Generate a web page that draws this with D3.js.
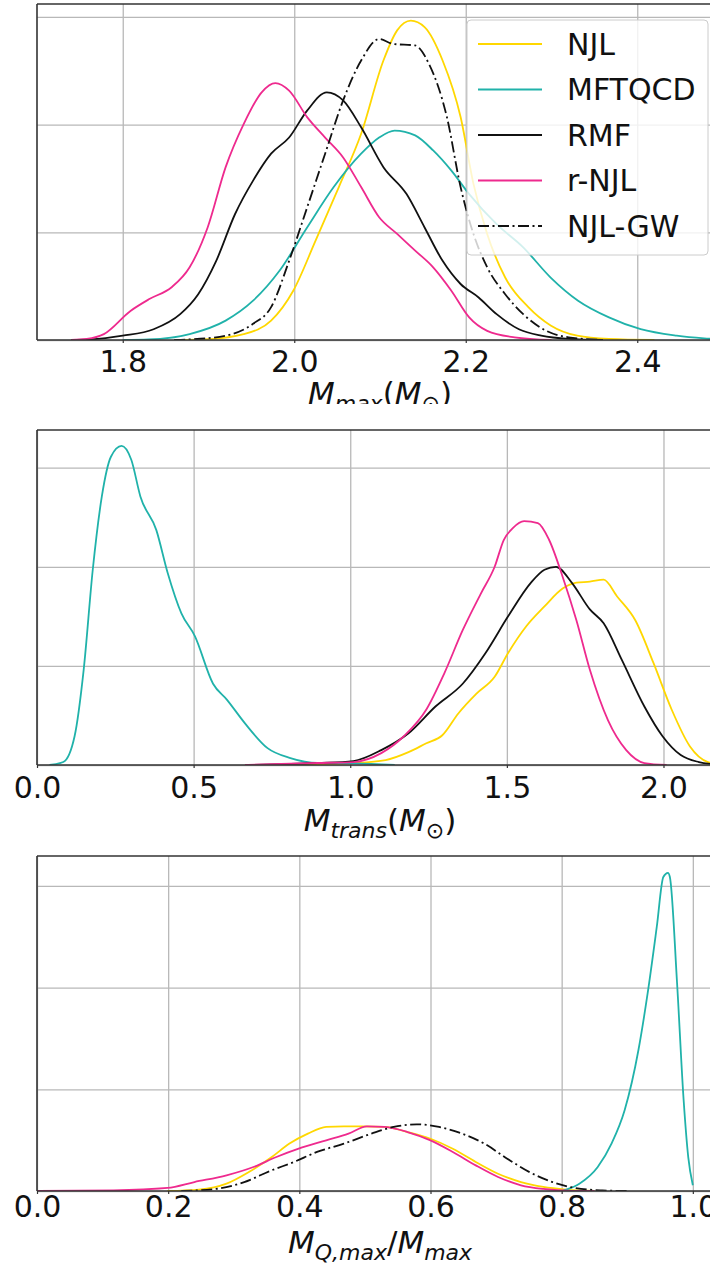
<!DOCTYPE html>
<meta charset="utf-8">
<script src="https://d3js.org/d3.v7.min.js"></script>
<style>
  body { margin: 0; background: #fff; }
  text { font-family: "DejaVu Sans", sans-serif; }
</style>
<div id="chart"></div>
<script>

// series names, in plotting / legend order
const models = ["NJL", "MFTQCD", "RMF", "r-NJL", "NJL-GW"];

// ---- panel 1 : M_max (density)
const mmaxNJL = [[1.86,0],[1.894,0.01],[1.941,0.11],[1.973,0.36],[1.999,0.92],[2.025,1.85],[2.052,2.84],[2.078,3.83],[2.104,5.19],[2.12,5.75],[2.136,5.93],[2.152,5.81],[2.173,5.19],[2.194,4.14],[2.209,2.9],[2.225,1.97],[2.246,1.16],[2.273,0.61],[2.299,0.27],[2.33,0.08],[2.367,0.02],[2.42,0]];
const mmaxMFTQCD = [[1.8,0],[1.83,0.01],[1.878,0.11],[1.92,0.36],[1.952,0.73],[1.983,1.29],[2.015,2.09],[2.046,2.84],[2.078,3.46],[2.099,3.76],[2.117,3.89],[2.141,3.8],[2.162,3.52],[2.183,3.15],[2.204,2.71],[2.236,2.15],[2.267,1.72],[2.299,1.16],[2.331,0.73],[2.367,0.42],[2.404,0.2],[2.446,0.08],[2.478,0.03],[2.52,0]];
const mmaxRMF = [[1.74,0],[1.762,0.01],[1.8,0.08],[1.836,0.2],[1.867,0.48],[1.888,0.85],[1.909,1.47],[1.931,2.34],[1.952,2.96],[1.973,3.46],[1.994,3.76],[2.015,4.26],[2.038,4.6],[2.057,4.45],[2.078,3.95],[2.104,3.21],[2.131,2.71],[2.152,2.09],[2.173,1.47],[2.194,1.04],[2.215,0.79],[2.236,0.48],[2.262,0.2],[2.288,0.08],[2.32,0.02],[2.36,0]];
const mmaxRNJL = [[1.74,0],[1.758,0.02],[1.778,0.11],[1.809,0.54],[1.831,0.76],[1.857,0.98],[1.878,1.35],[1.899,2.09],[1.92,3.21],[1.941,4.01],[1.962,4.6],[1.978,4.77],[1.994,4.63],[2.015,4.14],[2.036,3.76],[2.057,3.39],[2.078,2.84],[2.099,2.28],[2.12,1.97],[2.141,1.66],[2.162,1.35],[2.183,0.92],[2.204,0.42],[2.225,0.17],[2.257,0.05],[2.3,0]];
const mmaxNJLGW = [[1.86,0],[1.878,0.01],[1.92,0.08],[1.952,0.3],[1.973,0.61],[1.994,1.47],[2.015,2.46],[2.036,3.46],[2.057,4.45],[2.078,5.19],[2.099,5.59],[2.115,5.5],[2.141,5.47],[2.157,5.13],[2.178,4.14],[2.194,2.84],[2.209,1.97],[2.225,1.35],[2.246,0.85],[2.267,0.48],[2.294,0.17],[2.32,0.05],[2.36,0]];

// ---- panel 2 : M_trans
const mtransNJL = [[0.75,0],[0.9,0.01],[1.01,0.02],[1.113,0.05],[1.186,0.13],[1.243,0.22],[1.294,0.3],[1.345,0.52],[1.403,0.72],[1.461,0.89],[1.504,1.13],[1.562,1.4],[1.62,1.6],[1.678,1.78],[1.722,1.84],[1.765,1.85],[1.809,1.87],[1.852,1.7],[1.91,1.46],[1.968,1.03],[2.026,0.56],[2.084,0.19],[2.142,0.03],[2.2,0]];
const mtransMFTQCD = [[0.04,0],[0.084,0.03],[0.12,0.29],[0.149,0.96],[0.178,1.97],[0.207,2.71],[0.236,3.11],[0.27,3.22],[0.301,3.08],[0.33,2.71],[0.381,2.37],[0.417,1.94],[0.461,1.53],[0.504,1.3],[0.562,0.82],[0.606,0.66],[0.664,0.42],[0.736,0.17],[0.809,0.07],[0.896,0.02],[1.012,0.017],[1.142,0]];
const mtransRMF = [[0.664,0],[0.896,0.02],[1.01,0.04],[1.099,0.15],[1.186,0.32],[1.272,0.59],[1.359,0.82],[1.432,1.13],[1.504,1.5],[1.577,1.84],[1.62,1.97],[1.657,2.0],[1.707,1.84],[1.765,1.57],[1.809,1.43],[1.867,1.06],[1.939,0.59],[1.997,0.29],[2.055,0.1],[2.113,0.03],[2.15,0.01],[2.19,0]];
const mtransRNJL = [[0.664,0],[0.896,0.02],[1.01,0.03],[1.099,0.12],[1.171,0.29],[1.243,0.56],[1.301,0.93],[1.359,1.36],[1.417,1.73],[1.461,2.0],[1.49,2.27],[1.519,2.39],[1.555,2.46],[1.599,2.44],[1.635,2.27],[1.678,1.9],[1.722,1.46],[1.765,0.96],[1.823,0.45],[1.881,0.15],[1.939,0.02],[2.01,0]];

// ---- panel 3 : M_Q,max / M_max
const mqNJL = [[0.199,0],[0.247,0.07],[0.289,0.36],[0.323,0.93],[0.358,1.67],[0.385,2.33],[0.413,2.82],[0.441,3.15],[0.468,3.18],[0.496,3.18],[0.53,3.15],[0.565,2.9],[0.6,2.57],[0.634,2.08],[0.669,1.43],[0.703,0.85],[0.738,0.44],[0.772,0.2],[0.807,0.07],[0.85,0]];
const mqMFTQCD = [[0.8,0],[0.807,0.07],[0.827,0.36],[0.855,1.18],[0.876,2.33],[0.896,3.97],[0.917,6.92],[0.931,9.7],[0.945,12.98],[0.955,15.44],[0.962,15.64],[0.965,15.44],[0.976,10.2],[0.986,4.46],[0.993,1.67],[1.0,0.28]];
const mqRNJL = [[0.0,0],[0.116,0.03],[0.199,0.15],[0.24,0.44],[0.289,0.77],[0.33,1.18],[0.365,1.67],[0.399,2.08],[0.441,2.49],[0.475,2.82],[0.503,3.18],[0.53,3.15],[0.565,2.9],[0.6,2.49],[0.634,1.92],[0.669,1.26],[0.703,0.69],[0.738,0.28],[0.772,0.1],[0.807,0.02],[0.85,0]];
const mqNJLGW = [[0.22,0],[0.275,0.11],[0.316,0.44],[0.358,1.02],[0.392,1.43],[0.427,1.92],[0.468,2.33],[0.51,2.82],[0.544,3.15],[0.579,3.28],[0.613,3.15],[0.648,2.82],[0.682,2.33],[0.717,1.59],[0.751,0.93],[0.786,0.44],[0.82,0.15],[0.862,0.03],[0.9,0]];

// tick values
const mmaxTicks = [1.8, 2.0, 2.2, 2.4];
const mtransTicks = [0.0, 0.5, 1.0, 1.5, 2.0];
const mqTicks = [0.0, 0.2, 0.4, 0.6, 0.8, 1.0];

// styles per model
const colors = { "NJL": "#ffd700", "MFTQCD": "#20b2aa", "RMF": "#111111", "r-NJL": "#ee2a8e", "NJL-GW": "#111111" };
const dashes = { "NJL-GW": "11,3.5,2,3.5" };

const W = 710, H = 1267;
const left = 37, right = 723;

const panels = [
  { top: 4, bottom: 340, xdom: [1.7, 2.5], ymax: 6.24, xticks: mmaxTicks, yticks: [0, 2, 4, 6],
    data: { "NJL": mmaxNJL, "MFTQCD": mmaxMFTQCD, "RMF": mmaxRMF, "r-NJL": mmaxRNJL, "NJL-GW": mmaxNJLGW },
    label: [["M", 1, 0], ["max", 1, 1], ["(", 0, 0], ["M", 1, 0], ["\u2299", 0, 1], [")", 0, 0]],
    tickPad: 8, labelDy: 64, legend: true, clipLabel: 404 },
  { top: 430, bottom: 765, xdom: [0, 2.19], ymax: 3.38, xticks: mtransTicks, yticks: [0, 1, 2, 3],
    data: { "NJL": mtransNJL, "MFTQCD": mtransMFTQCD, "RMF": mtransRMF, "r-NJL": mtransRNJL },
    label: [["M", 1, 0], ["trans", 1, 1], ["(", 0, 0], ["M", 1, 0], ["\u2299", 0, 1], [")", 0, 0]],
    tickPad: 9, labelDy: 66 },
  { top: 856, bottom: 1191, xdom: [0, 1.046], ymax: 16.47, xticks: mqTicks, yticks: [0, 5, 10, 15],
    data: { "NJL": mqNJL, "MFTQCD": mqMFTQCD, "r-NJL": mqRNJL, "NJL-GW": mqNJLGW },
    label: [["M", 1, 0], ["Q,max", 1, 1], ["/", 0, 0], ["M", 1, 0], ["max", 1, 1]],
    tickPad: 2, labelDy: 62 }
];

const svg = d3.select("#chart").append("svg")
  .attr("width", W)
  .attr("height", H);

panels.forEach(function (p, i) {
  const x = d3.scaleLinear().domain(p.xdom).range([left, right]);
  const y = d3.scaleLinear().domain([0, p.ymax]).range([p.bottom, p.top]);
  const g = svg.append("g");

  // clip for the curves
  svg.append("clipPath").attr("id", "clip" + i)
    .append("rect").attr("x", left).attr("y", p.top)
    .attr("width", right - left).attr("height", p.bottom - p.top);

  // grid
  g.append("g")
    .attr("transform", `translate(0,${p.bottom})`)
    .call(d3.axisBottom(x).tickValues(p.xticks).tickSize(-(p.bottom - p.top)).tickFormat(""))
    .call(a => a.select(".domain").remove())
    .selectAll("line").attr("stroke", "#b8b8b8").attr("stroke-width", 1.3);
  g.append("g")
    .attr("transform", `translate(${left},0)`)
    .call(d3.axisLeft(y).tickValues(p.yticks).tickSize(-(right - left)).tickFormat(""))
    .call(a => a.select(".domain").remove())
    .selectAll("line").attr("stroke", "#b8b8b8").attr("stroke-width", 1.3);

  // density curves
  const line = d3.line()
    .x(d => x(d[0]))
    .y(d => y(d[1]))
    .curve(d3.curveMonotoneX);

  const curves = g.append("g").attr("clip-path", `url(#clip${i})`);
  models.forEach(function (m) {
    if (!p.data[m]) return;
    curves.append("path")
      .datum(p.data[m])
      .attr("d", line)
      .attr("fill", "none")
      .attr("stroke", colors[m])
      .attr("stroke-width", 1.8)
      .attr("stroke-dasharray", dashes[m] || null);
  });

  // spines
  const spine = g.append("g").attr("stroke", "#333").attr("stroke-width", 1.6);
  spine.append("line").attr("x1", left).attr("x2", left).attr("y1", p.top).attr("y2", p.bottom);
  spine.append("line").attr("x1", left).attr("x2", right).attr("y1", p.top).attr("y2", p.top);
  spine.append("line").attr("x1", left).attr("x2", right).attr("y1", p.bottom).attr("y2", p.bottom);
  spine.append("line").attr("x1", right).attr("x2", right).attr("y1", p.top).attr("y2", p.bottom);

  // x tick labels
  const ax = g.append("g")
    .attr("transform", `translate(0,${p.bottom})`)
    .call(d3.axisBottom(x).tickValues(p.xticks).tickSize(3).tickPadding(p.tickPad).tickFormat(d3.format(".1f")));
  ax.select(".domain").remove();
  ax.selectAll("line").attr("stroke", "#333").attr("stroke-width", 1.2);
  ax.selectAll("text")
    .attr("fill", "#111")
    .style("font-size", "30px")
    .style("font-family", "DejaVu Sans");

  // x axis label (mathtext-like)
  const lab = svg.append("text")
    .attr("x", (left + right) / 2)
    .attr("y", p.bottom + p.labelDy)
    .attr("text-anchor", "middle")
    .attr("fill", "#111")
    .style("font-size", "31px");
  let sub = 0;
  p.label.forEach(function (s) {
    const t = lab.append("tspan").text(s[0])
      .style("font-style", s[1] ? "italic" : "normal");
    if (s[2]) t.style("font-size", "22px");
    const dy = (s[2] ? 7 : 0) - sub;
    if (dy) t.attr("dy", dy);
    sub = s[2] ? 7 : 0;
  });
  if (p.clipLabel) {
    svg.append("clipPath").attr("id", "labclip" + i)
      .append("rect").attr("x", 0).attr("y", 0).attr("width", W).attr("height", p.clipLabel);
    lab.attr("clip-path", `url(#labclip${i})`);
  }

  // legend
  if (p.legend) {
    const lg = svg.append("g");
    lg.append("rect")
      .attr("x", 467).attr("y", 20).attr("width", 241).attr("height", 235)
      .attr("rx", 4)
      .attr("fill", "#fff").attr("fill-opacity", 0.8)
      .attr("stroke", "#cccccc").attr("stroke-width", 1);
    models.forEach(function (m, k) {
      const yy = 44 + k * 45.5;
      lg.append("line")
        .attr("x1", 478).attr("x2", 542).attr("y1", yy).attr("y2", yy)
        .attr("stroke", colors[m]).attr("stroke-width", 2)
        .attr("stroke-dasharray", dashes[m] || null);
      lg.append("text")
        .attr("x", 567).attr("y", yy)
        .attr("dominant-baseline", "central")
        .attr("fill", "#111")
        .style("font-size", "30px")
        .text(m);
    });
  }
});
</script>
